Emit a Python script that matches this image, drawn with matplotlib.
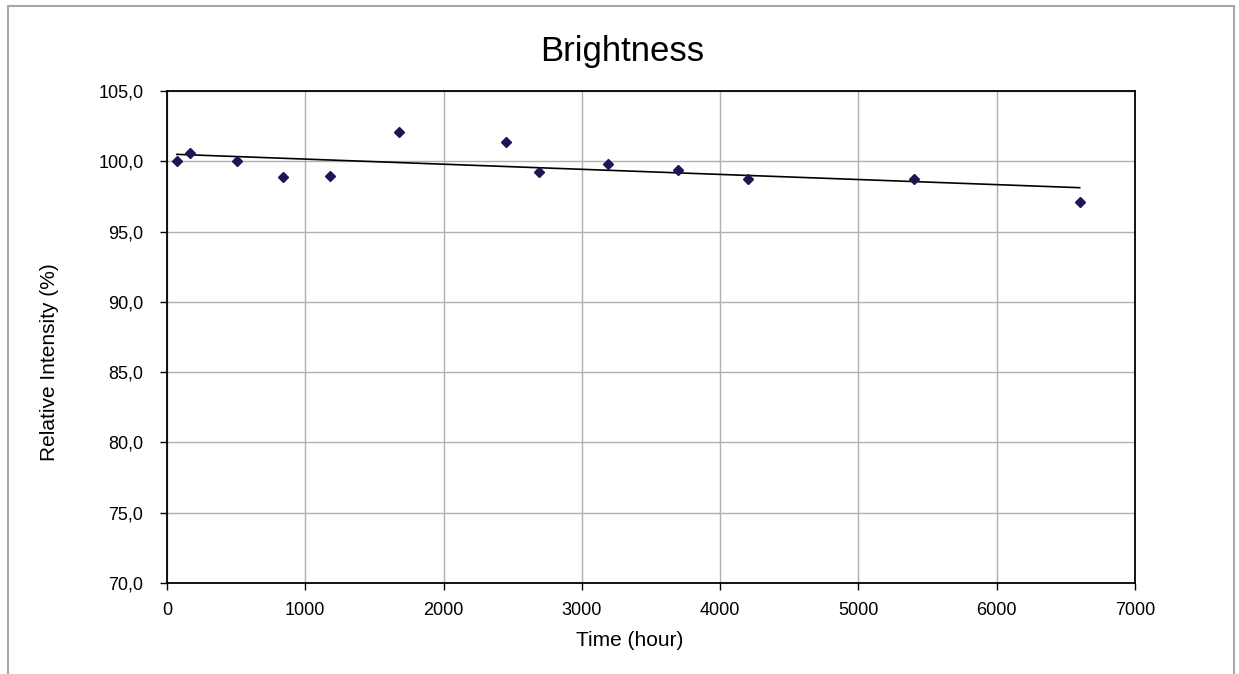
import matplotlib
matplotlib.use("Agg")
import matplotlib.pyplot as plt
from matplotlib.patches import Rectangle
from matplotlib.ticker import FuncFormatter
import numpy as np

plt.rcParams['font.family'] = ['Liberation Sans', 'DejaVu Sans']

time_h = [72, 168, 504, 840, 1176, 1680, 2448, 2688, 3192, 3696, 4200, 5400, 6600]
intensity = [100.0, 100.57, 100.0, 98.86, 98.98, 102.08, 101.35, 99.24, 99.81, 99.36, 98.76, 98.74, 97.13]
x_ticks = [0, 1000, 2000, 3000, 4000, 5000, 6000, 7000]
y_ticks = [70, 75, 80, 85, 90, 95, 100, 105]

W, H = 1239, 674
fig = plt.figure(figsize=(W / 100, H / 100), dpi=100)
fig.patch.set_facecolor('white')
fig.patches.append(Rectangle((8 / W, -0.05), (1234 - 8) / W, 1.05 - 6 / H,
                             transform=fig.transFigure, fill=False,
                             edgecolor='#a8a8a8', linewidth=1.5))

ax = fig.add_axes([167 / W, 1 - 583 / H, (1135 - 167) / W, (583 - 91) / H])

ax.grid(True, color='#b0b0b0', linewidth=1.0, zorder=0)
ax.set_axisbelow(True)

x = np.array(time_h, dtype=float)
y = np.array(intensity, dtype=float)
k, b = np.polyfit(x, y, 1)
xl = np.array([x.min(), x.max()])
ax.plot(xl, k * xl + b, color='black', linewidth=1.2, zorder=2)

ax.plot(x, y, linestyle='none', marker='D', markersize=5.5,
        color='#1c1654', zorder=3)

ax.set_xlim(0, 7000)
ax.set_ylim(70, 105)
ax.set_xticks(x_ticks)
ax.set_yticks(y_ticks)
ax.yaxis.set_major_formatter(FuncFormatter(lambda v, p: f"{v:.1f}".replace('.', ',')))
ax.tick_params(direction='out', length=5, width=1, labelsize=13, colors='black')
ax.tick_params(axis='y', pad=12)
ax.tick_params(axis='x', pad=9)

for s in ax.spines.values():
    s.set_color('black')
    s.set_linewidth(1.3)

fig.text(622 / W, 1 - 51 / H, 'Brightness', fontsize=25, ha='center', va='center')
fig.text(630 / W, 1 - 641 / H, 'Time (hour)', fontsize=15, ha='center', va='center')
fig.text(50 / W, 1 - 362 / H, 'Relative Intensity (%)', fontsize=15, ha='center',
         va='center', rotation=90)

fig.savefig('out.png', dpi=100)
